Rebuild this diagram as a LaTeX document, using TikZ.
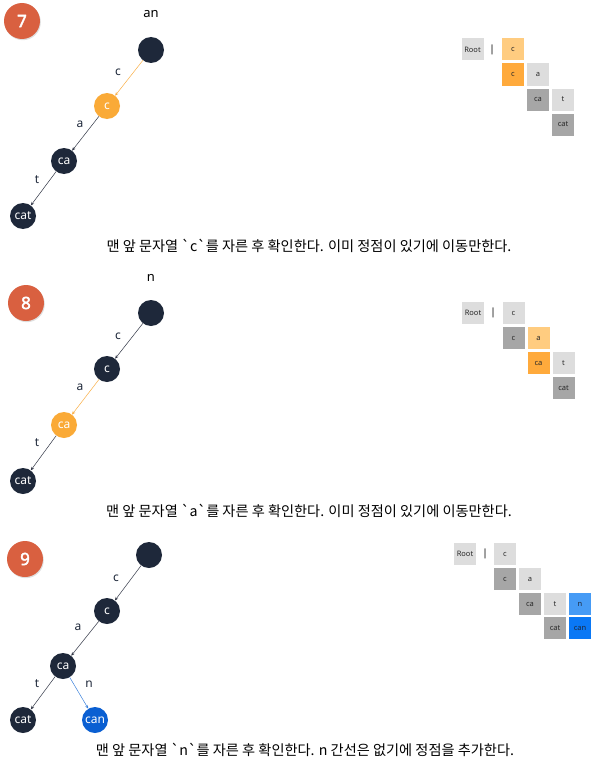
\documentclass[tikz,border=0pt]{standalone}
\usepackage{fontspec}
\setmainfont{Noto Sans}
\newfontfamily\kr{Noto Sans CJK KR}[Ligatures=ResetAll]
\newfontfamily\bdf{Noto Sans}[FakeBold=2.5]
\usetikzlibrary{arrows.meta,shadows}
\definecolor{badge}{RGB}{217,96,64}
\definecolor{navy}{RGB}{30,40,58}
\definecolor{onode}{RGB}{250,170,55}
\definecolor{bnode}{RGB}{10,95,210}
\definecolor{edark}{RGB}{50,55,70}
\definecolor{eorange}{RGB}{250,175,70}
\definecolor{eblue}{RGB}{60,130,220}
\definecolor{tlight}{RGB}{221,221,221}
\definecolor{tdark}{RGB}{166,166,166}
\definecolor{tlorange}{RGB}{255,204,128}
\definecolor{torange}{RGB}{255,170,60}
\definecolor{tlblue}{RGB}{70,155,245}
\definecolor{tblue}{RGB}{10,120,245}
\definecolor{ttext}{RGB}{40,40,40}
\tikzset{
  x=1pt, y=-1pt,
  badgenode/.style={circle, fill=badge, minimum size=36pt, inner sep=0pt, text=white,
    drop shadow={shadow xshift=0.8pt, shadow yshift=-1.2pt, opacity=0.25},
    font=\bdf\fontsize{17}{17}\selectfont},
  tnode/.style={circle, fill=navy, minimum size=26pt, inner sep=0pt, text=white, font=\fontsize{12}{12}\selectfont},
  onodes/.style={tnode, fill=onode},
  bnodes/.style={tnode, fill=bnode},
  edge/.style={draw=edark, line width=0.5pt, -{Stealth[length=3.5pt,width=3pt]}},
  oedge/.style={edge, draw=eorange},
  bedge/.style={edge, draw=eblue},
  elabel/.style={text=navy, font=\fontsize{12}{12}\selectfont},
  toplabel/.style={text=black, font=\fontsize{13}{13}\selectfont},
  barlabel/.style={text=black, font=\fontsize{10}{10}\selectfont},
  cell/.style={rectangle, minimum size=22pt, inner sep=0pt, fill=tlight, text=ttext, font=\fontsize{7.5}{7.5}\selectfont},
  caption/.style={text=black, font=\kr\fontsize{14.2}{15}\selectfont}
}
\begin{document}
\begin{tikzpicture}
\useasboundingbox (0,0) rectangle (600,768);
\fill[white] (0,0) rectangle (600,768);

% ---------------- Panel 7 ----------------
\node[badgenode] (b7) at (22,21) {7};
\node[toplabel] (s7) at (151,14) {an};
\node[tnode] (r7) at (151,50) {};
\node[onodes] (c7) at (107,106) {c};
\node[tnode] (ca7) at (64,161) {ca};
\node[tnode] (cat7) at (23,216) {cat};
\draw[oedge] (r7) -- (c7);
\draw[edge] (c7) -- (ca7);
\draw[edge] (ca7) -- (cat7);
\node[elabel] (lc7) at (118,72) {c};
\node[elabel] (la7) at (80,124) {a};
\node[elabel] (lt7) at (37,180) {t};
\node[cell] (t7root) at (472.5,49.5) {Root};
\node[barlabel] (t7bar) at (492,49.5) {|};
\node[cell, fill=tlorange] (t7a1) at (513,49.5) {c};
\node[cell, fill=torange] (t7b1) at (513,74.5) {c};
\node[cell] (t7b2) at (538,74.5) {a};
\node[cell, fill=tdark] (t7c2) at (538,99.5) {ca};
\node[cell] (t7c3) at (563,99.5) {t};
\node[cell, fill=tdark] (t7d3) at (563,124.5) {cat};
\node[caption] (cap7) at (309,246) {맨 앞 문자열 `c`를 자른 후 확인한다. 이미 정점이 있기에 이동만한다.};

% ---------------- Panel 8 ----------------
\node[badgenode] (b8) at (26,303) {8};
\node[toplabel] (s8) at (151,278) {n};
\node[tnode] (r8) at (151,313) {};
\node[tnode] (c8) at (107,369) {c};
\node[onodes] (ca8) at (64,425) {ca};
\node[tnode] (cat8) at (23,481) {cat};
\draw[edge] (r8) -- (c8);
\draw[oedge] (c8) -- (ca8);
\draw[edge] (ca8) -- (cat8);
\node[elabel] (lc8) at (118,336) {c};
\node[elabel] (la8) at (80,387) {a};
\node[elabel] (lt8) at (37,443) {t};
\node[cell] (t8root) at (473,313) {Root};
\node[barlabel] (t8bar) at (493,313) {|};
\node[cell] (t8a1) at (513.5,313) {c};
\node[cell, fill=tdark] (t8b1) at (513.5,338) {c};
\node[cell, fill=tlorange] (t8b2) at (538.5,338) {a};
\node[cell, fill=torange] (t8c2) at (538.5,363) {ca};
\node[cell] (t8c3) at (563.5,363) {t};
\node[cell, fill=tdark] (t8d3) at (563.5,388) {cat};
\node[caption] (cap8) at (309,511) {맨 앞 문자열 `a`를 자른 후 확인한다. 이미 정점이 있기에 이동만한다.};

% ---------------- Panel 9 ----------------
\node[badgenode] (b9) at (25,559) {9};
\node[tnode] (r9) at (149,555) {};
\node[tnode] (c9) at (107,611) {c};
\node[tnode] (ca9) at (63,666) {ca};
\node[tnode] (cat9) at (23,720) {cat};
\node[bnodes] (can9) at (95,720) {can};
\draw[edge] (r9) -- (c9);
\draw[edge] (c9) -- (ca9);
\draw[edge] (ca9) -- (cat9);
\draw[bedge] (ca9) -- (can9);
\node[elabel] (lc9) at (116,578) {c};
\node[elabel] (la9) at (78,627) {a};
\node[elabel] (lt9) at (37,684) {t};
\node[elabel] (ln9) at (89,684) {n};
\node[cell] (t9root) at (465,554) {Root};
\node[barlabel] (t9bar) at (485,554) {|};
\node[cell] (t9a1) at (505,554) {c};
\node[cell, fill=tdark] (t9b1) at (505,579) {c};
\node[cell] (t9b2) at (530,579) {a};
\node[cell, fill=tdark] (t9c2) at (530,604) {ca};
\node[cell] (t9c3) at (555,604) {t};
\node[cell, fill=tlblue, text=navy] (t9c4) at (580,604) {n};
\node[cell, fill=tdark] (t9d3) at (555,628) {cat};
\node[cell, fill=tblue, text=navy] (t9d4) at (580,628) {can};
\node[caption] (cap9) at (305,750) {맨 앞 문자열 `n`를 자른 후 확인한다. n 간선은 없기에 정점을 추가한다.};
\end{tikzpicture}
\end{document}
